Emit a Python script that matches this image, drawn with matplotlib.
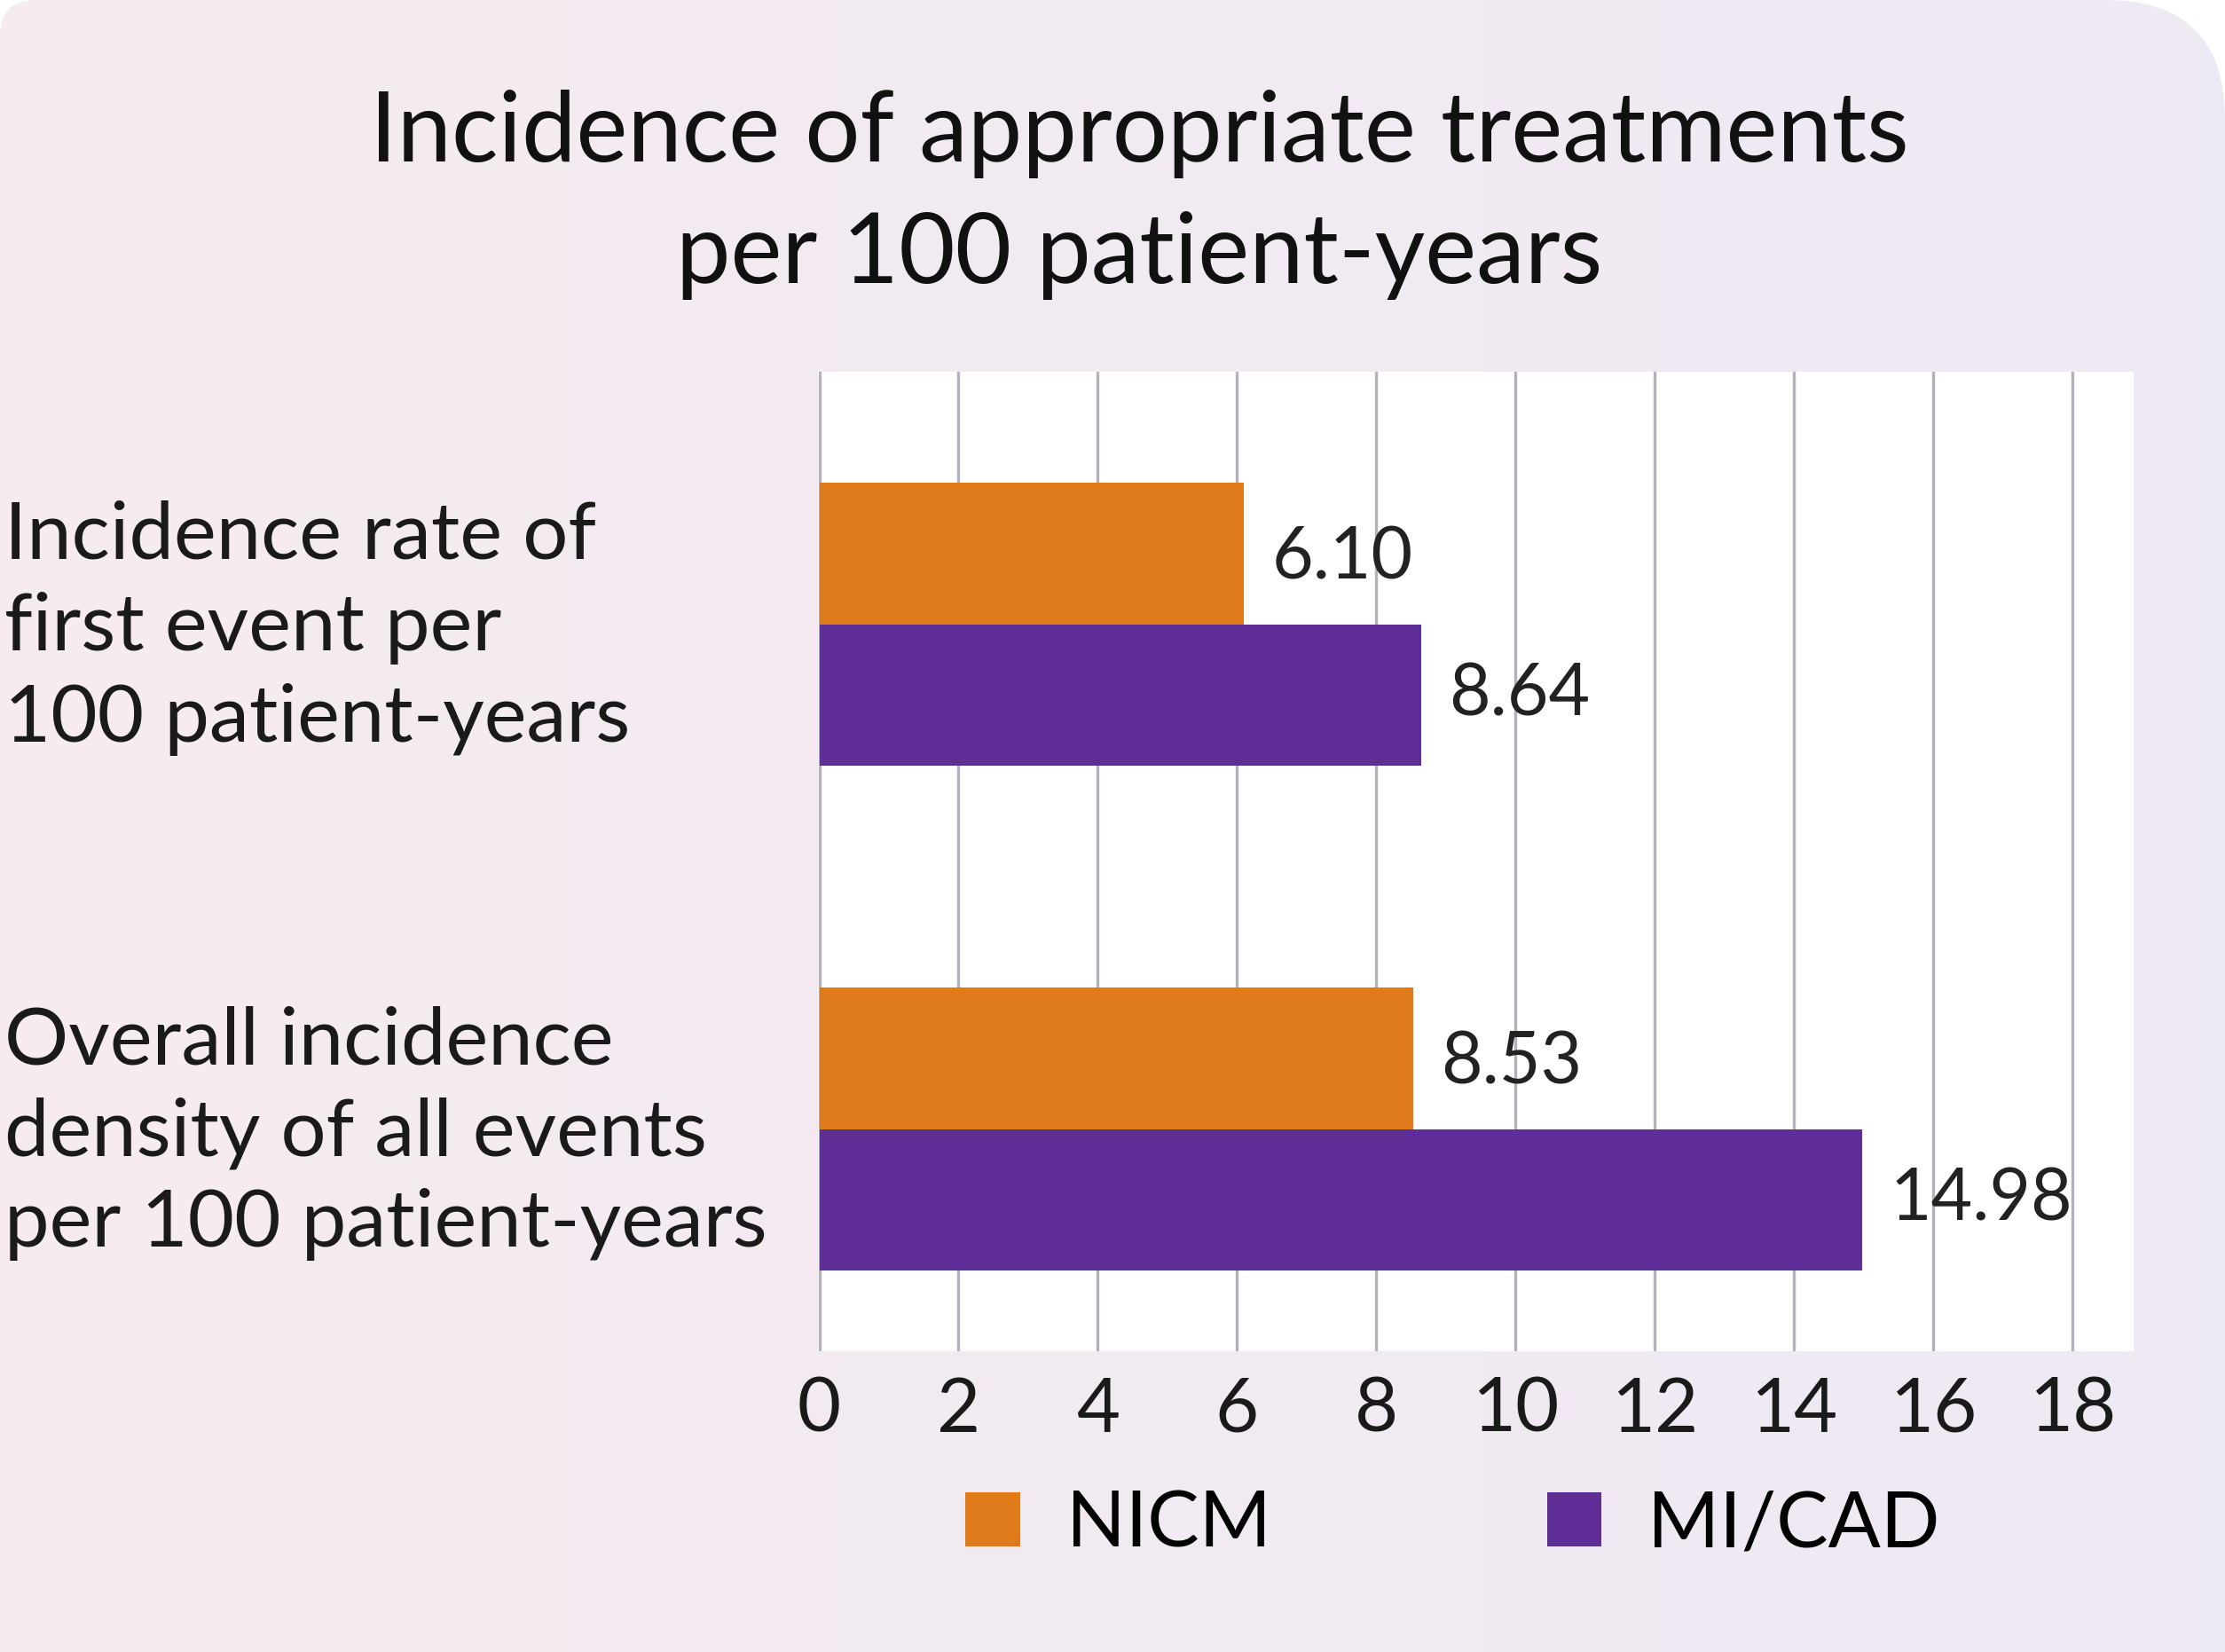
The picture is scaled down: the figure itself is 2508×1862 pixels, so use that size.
import numpy as np
import matplotlib.pyplot as plt
from matplotlib.patches import FancyBboxPatch, Patch
from matplotlib.transforms import ScaledTranslation

# data
categories = ["Incidence rate of\nfirst event per\n100 patient-years",
              "Overall incidence\ndensity of all events\nper 100 patient-years"]
nicm = [6.10, 8.53]
micad = [8.64, 14.98]
series_names = ["NICM", "MI/CAD"]
xticks = [0, 2, 4, 6, 8, 10, 12, 14, 16, 18]

orange = "#e07b1b"
purple = "#5e2d96"

plt.rcParams['font.family'] = ['Lato', 'DejaVu Sans']

fig = plt.figure(figsize=(25.08, 18.62), dpi=100)
fig.patch.set_facecolor("white")

# panel with soft pink -> lavender gradient, big rounded corner top right, small top left
bg = fig.add_axes([0, 0, 1, 1])
bg.set_axis_off()
grad = np.linspace(0, 1, 256)
c0 = np.array([0.965, 0.925, 0.941])
c1 = np.array([0.933, 0.914, 0.957])
img = c0[None, None, :] * (1 - grad[None, :, None]) + c1[None, None, :] * grad[None, :, None]
right_part = FancyBboxPatch((11, -3), 14.08, 21.62, boxstyle="round,pad=0,rounding_size=1.35",
                            transform=fig.dpi_scale_trans, facecolor="none", edgecolor="none")
left_part = FancyBboxPatch((0, -3), 13, 21.62, boxstyle="round,pad=0,rounding_size=0.4",
                           transform=fig.dpi_scale_trans, facecolor="none", edgecolor="none")
for p in (right_part, left_part):
    bg.add_patch(p)
    im = bg.imshow(img, extent=[0, 1, 0, 1], aspect="auto", transform=bg.transAxes)
    im.set_clip_path(p)
bg.set_xlim(0, 1)
bg.set_ylim(0, 1)

ax = fig.add_axes([0.3676, 0.182, 0.5914, 0.593])
ax.set_facecolor("white")

y = np.array([1, 0])
h = 0.28
ax.barh(y + h / 2, nicm, height=h, color=orange, zorder=2)
ax.barh(y - h / 2, micad, height=h, color=purple, zorder=2)

for yy, v in zip(y + h / 2, nicm):
    ax.text(v + 0.4, yy - 0.01, f"{v:.2f}", va="center", ha="left", fontsize=58, color="#222222")
for yy, v in zip(y - h / 2, micad):
    ax.text(v + 0.4, yy, f"{v:.2f}", va="center", ha="left", fontsize=58, color="#222222")

ax.set_xlim(-0.02, 18.88)
ax.set_ylim(-0.44, 1.5)
ax.set_xticks(xticks)
ax.set_xticklabels([str(t) for t in xticks], fontsize=61, color="#1a1a1a")
ax.set_yticks(y)
ax.set_yticklabels(categories, fontsize=65, color="#1a1a1a", ha="left", linespacing=1.32)
ax.tick_params(axis="y", length=0, pad=660)
ax.tick_params(axis="x", length=0, pad=20)
shift = ScaledTranslation(0, 0.14, fig.dpi_scale_trans)
for lab in ax.get_yticklabels():
    lab.set_transform(lab.get_transform() + shift)
ax.grid(axis="x", color="#b3b1b9", linewidth=2.4)
ax.set_axisbelow(True)
for s in ax.spines.values():
    s.set_visible(False)

fig.text(0.512, 0.882, "Incidence of appropriate treatments\nper 100 patient-years",
         ha="center", va="center", fontsize=79, color="#111111", linespacing=1.45)

handles = [Patch(facecolor=orange), Patch(facecolor=purple)]
fig.legend(handles, series_names, loc="center", bbox_to_anchor=(0.653, 0.077), ncol=2,
           frameon=False, fontsize=63, handlelength=0.7, handleheight=0.7,
           handletextpad=0.6, columnspacing=3.55)

fig.savefig("out.png", dpi=100, facecolor=fig.get_facecolor())
